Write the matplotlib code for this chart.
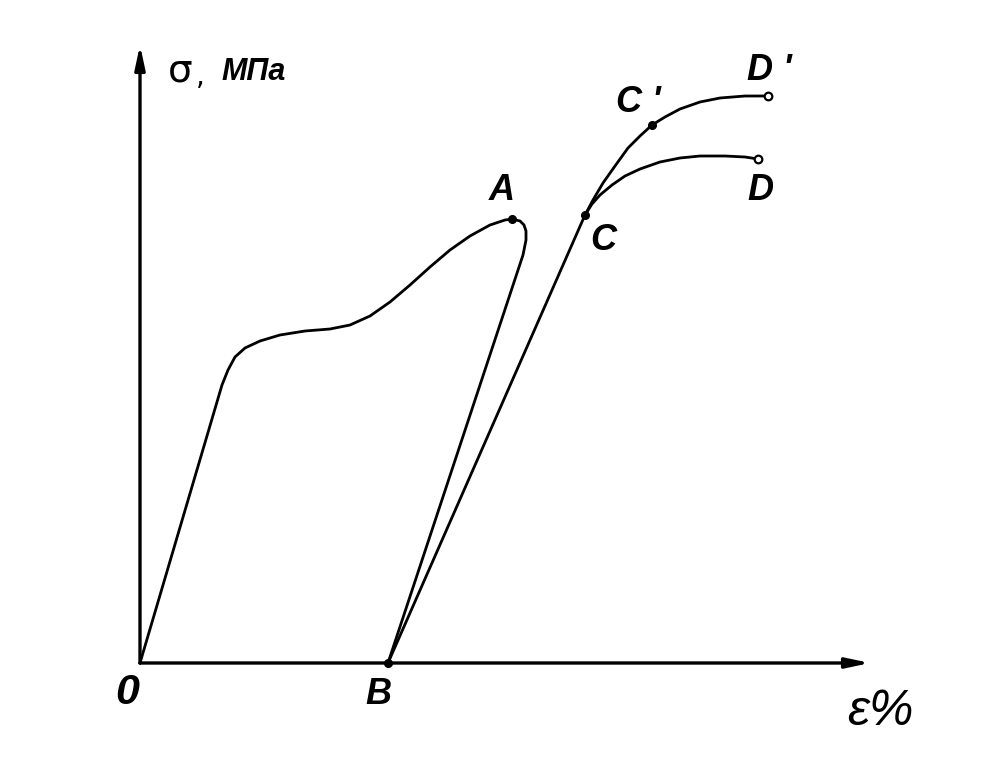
import matplotlib
matplotlib.use("Agg")
from matplotlib import pyplot as plt

# curve O -> A -> B (loading then unloading), units: strain, stress (schematic)
oab_x = [0.0, 8.2, 8.8, 9.5, 10.5, 12.0, 14.0, 16.5, 19.0, 21.0, 23.0, 25.0, 27.0,
         29.0, 31.0, 33.0, 35.0, 36.5, 37.2, 38.0, 38.4, 38.6, 38.6, 38.3, 24.8]
oab_y = [0.0, 27.8, 29.3, 30.6, 31.5, 32.2, 32.8, 33.2, 33.4, 33.8, 34.7, 36.1, 37.8,
         39.6, 41.3, 42.7, 43.8, 44.3, 44.4, 44.2, 43.8, 43.2, 42.3, 40.8, 0.0]

# reloading B -> C -> C' -> D'
bcd2_x = [24.8, 44.5, 45.3, 46.3, 47.5, 48.8, 50.0, 51.2, 52.5, 54.0, 56.0, 58.0, 60.5, 62.8]
bcd2_y = [0.0, 44.8, 46.3, 48.0, 49.7, 51.5, 52.7, 53.8, 54.6, 55.4, 56.1, 56.5, 56.7, 56.7]

# branch C -> D
cd_x = [44.5, 45.2, 46.0, 47.2, 48.5, 50.0, 52.0, 54.0, 56.0, 58.5, 60.5, 61.8]
cd_y = [44.8, 45.9, 46.8, 47.8, 48.7, 49.4, 50.1, 50.5, 50.7, 50.7, 50.6, 50.4]

# labelled points
pts = {"A": (37.2, 44.4), "B": (24.8, 0.0), "C": (44.5, 44.8), "C'": (51.2, 53.8)}
open_pts = {"D": (61.8, 50.4), "D'": (62.8, 56.7)}

fig = plt.figure(figsize=(10.07, 7.68), dpi=100)
ax = fig.add_axes([0, 0, 1, 1])
ax.set_xlim(-14.0, 86.7)
ax.set_ylim(-10.5, 66.3)
ax.axis('off')

lw = 2.0
ax.plot(oab_x, oab_y, color='black', lw=lw, solid_joinstyle='round')
ax.plot(bcd2_x, bcd2_y, color='black', lw=lw, solid_joinstyle='round')
ax.plot(cd_x, cd_y, color='black', lw=lw, solid_joinstyle='round')

# axes with arrows
arrow = dict(arrowstyle='-|>,head_length=1.4,head_width=0.3', color='black', lw=2.4,
             shrinkA=0, shrinkB=0)
ax.annotate('', xy=(0, 61.8), xytext=(0, 0), arrowprops=arrow)
ax.annotate('', xy=(73.0, 0), xytext=(0, 0), arrowprops=arrow)

for name, (x, y) in pts.items():
    ax.plot(x, y, 'o', color='black', ms=5.5)
for name, (x, y) in open_pts.items():
    ax.plot(x, y, 'o', mfc='white', mec='black', mew=1.6, ms=5.5)

lab = dict(fontsize=26, style='italic', weight='bold', family='Liberation Sans',
           ha='center', va='center')
ax.text(-1.3, -3.0, '0', **{**lab, 'fontsize': 31})
ax.text(23.8, -3.2, 'B', **lab)
ax.text(36.2, 47.3, 'A', **lab)
ax.text(46.3, 42.3, 'C', **lab)
ax.text(49.8, 56.0, "C '", **lab)
ax.text(62.9, 59.3, "D '", **lab)
ax.text(62.0, 47.3, 'D', **lab)

ax.text(4.0, 59.3, 'σ', fontsize=28, family='DejaVu Sans', ha='center', va='center')
ax.text(6.0, 58.6, ',', fontsize=20, family='DejaVu Sans', ha='center', va='center')
ax.text(11.4, 59.1, 'МПа', fontsize=22, style='italic', weight='bold',
        family='Liberation Sans', ha='center', va='center')
ax.text(74.0, -4.9, 'ε%', fontsize=36, style='italic', family='Liberation Sans',
        ha='center', va='center')

fig.savefig('out.png', dpi=100)
